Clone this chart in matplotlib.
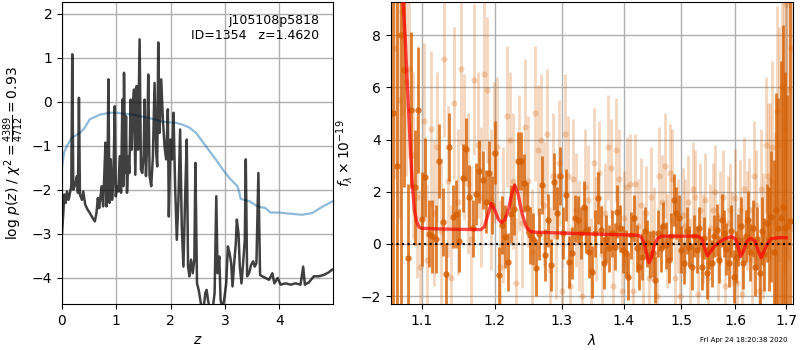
import numpy as np
import matplotlib
matplotlib.use("Agg")
import matplotlib.pyplot as plt
from matplotlib.ticker import NullLocator, NullFormatter, FixedLocator, FixedFormatter

# ---------------- p(z) panel data ----------------
pz_z = [0.000, 0.024, 0.043, 0.067, 0.092, 0.122, 0.147, 0.171, 0.189, 0.208,
        0.244, 0.275, 0.293, 0.312, 0.330, 0.367, 0.391, 0.428, 0.470, 0.513,
        0.562, 0.605, 0.635, 0.660, 0.684, 0.709, 0.733, 0.757, 0.776, 0.800,
        0.819, 0.837, 0.855, 0.874, 0.898, 0.922, 0.947, 0.971, 0.990, 1.014,
        1.038, 1.063, 1.087, 1.112, 1.130, 1.142, 1.161, 1.179, 1.197, 1.222,
        1.240, 1.265, 1.283, 1.301, 1.326, 1.350, 1.374, 1.399, 1.429, 1.454,
        1.478, 1.503, 1.521, 1.546, 1.570, 1.588, 1.613, 1.643, 1.674, 1.704,
        1.735, 1.753, 1.772, 1.796, 1.827, 1.857, 1.888, 1.918, 1.949, 1.967,
        1.998, 2.028, 2.053, 2.083, 2.114, 2.144, 2.175, 2.205, 2.236, 2.266,
        2.297, 2.321, 2.346, 2.376, 2.407, 2.437, 2.456, 2.486, 2.517, 2.547,
        2.578, 2.615, 2.639, 2.663, 2.688, 2.724, 2.773, 2.810, 2.841, 2.865,
        2.896, 2.920, 2.957, 2.993, 3.024, 3.054, 3.085, 3.115, 3.140, 3.170,
        3.201, 3.219, 3.250, 3.274, 3.305, 3.335, 3.366, 3.384, 3.409, 3.445,
        3.482, 3.519, 3.549, 3.580, 3.616, 3.647, 3.689, 3.751, 3.812, 3.873,
        3.910, 3.971, 4.026, 4.117, 4.209, 4.301, 4.392, 4.441, 4.472, 4.545,
        4.637, 4.728, 4.820, 4.911, 4.973]
pz_logp = [-2.99, -2.53, -2.11, -2.30, -2.04, -2.23, -2.07, -1.92, 1.08, -2.00,
           -1.88, -1.69, -2.07, 0.09, -2.11, -2.23, -2.04, -2.34, -2.45, -2.53,
           -2.64, -2.72, -2.53, -2.19, -2.42, -2.15, -1.92, -2.38, -1.77, -0.93,
           -2.38, -1.62, 0.51, -2.30, -1.31, -2.23, -1.77, -0.10, -2.15, -1.92,
           -2.04, -1.24, -2.07, 0.05, -1.92, 0.66, -1.62, -0.33, -2.07, -1.24,
           -1.62, 0.05, -1.09, -0.17, 0.28, -1.66, 0.36, -1.09, 1.42, -1.54,
           -1.62, -1.24, 0.05, -1.69, -0.86, 0.62, -1.69, -1.92, -1.24, 0.43,
           -1.16, -1.47, 1.35, -0.71, 0.51, -0.40, -1.01, -1.31, -0.17, -2.61,
           -0.86, -1.31, -0.25, -1.92, -3.14, -2.23, -0.63, -2.83, -3.75, -2.23,
           -0.86, -3.75, -3.97, -3.59, -3.90, -3.59, -1.39, -4.13, -4.28, -4.51,
           -4.73, -4.62, -4.35, -4.28, -4.51, -4.73, -4.73, -4.35, -2.15, -3.90,
           -3.52, -4.51, -4.73, -4.43, -4.13, -3.29, -3.44, -3.67, -4.20, -3.67,
           -3.21, -2.68, -2.99, -3.75, -4.13, -3.67, -3.14, -1.31, -3.97, -3.90,
           -3.71, -3.63, -3.75, -3.67, -1.62, -3.94, -3.97, -4.01, -4.05, -3.90,
           -4.13, -4.01, -4.16, -4.13, -4.16, -4.13, -4.16, -3.75, -4.16, -4.11,
           -3.97, -3.97, -3.94, -3.88, -3.82]

prior_z = [0.0, 0.012, 0.04, 0.086, 0.18, 0.33, 0.42, 0.51, 0.70, 0.88, 1.0, 1.12,
           1.31, 1.49, 1.67, 1.80, 1.92, 2.10, 2.22, 2.35, 2.47, 2.65, 2.83, 2.96,
           3.08, 3.23, 3.26, 3.29, 3.45, 3.60, 3.75, 3.84, 4.0, 4.24, 4.42, 4.61,
           4.79, 4.99]
prior_logp = [-1.50, -1.39, -1.15, -1.01, -0.82, -0.71, -0.59, -0.40, -0.29, -0.25,
              -0.25, -0.27, -0.29, -0.34, -0.39, -0.44, -0.46, -0.48, -0.52, -0.59,
              -0.71, -1.01, -1.31, -1.54, -1.73, -1.92, -2.04, -2.21, -2.26, -2.38,
              -2.42, -2.52, -2.52, -2.55, -2.57, -2.53, -2.39, -2.26]

# ---------------- spectrum panel data ----------------
dark_start, dark_step = 1.063, 0.0046
dark_flux = [5.0, 3.0, 8.0, 6.67, -0.52, 5.13, 2.17, 5.13, 0.95, 2.55,
             0.40, 0.30, 0.20, 3.18, 0.85, -1.15, 3.73, 1.05, 1.15, 0.13,
             2.52, 3.63, 1.81, 0.60, 1.92, 2.78, 2.45, 1.62, 2.73, 1.49,
             3.50, -1.20, 0.73, 0.28, -0.69, 1.14, 1.33, 3.18, 3.18, 2.33,
             1.39, 0.33, 0.20, -0.91, 0.37, 2.26, -0.42, 0.90, -0.80, 2.39,
             1.20, 2.60, 0.41, 1.88, -0.70, -0.36, 0.98, 0.92, 0.41, 1.43,
             0.54, -0.30, -1.06, 0.41, 1.75, 0.54, -0.74, 0.20, -0.17, 0.41,
             -0.10, 1.24, 0.60, -0.23, -0.36, -1.25, 0.34, 0.98, -0.17, -0.87,
             -0.49, 0.50, 0.03, -0.42, -0.36, -1.38, 0.41, -0.17, 0.70, -0.04,
             -0.61, 0.30, 1.69, 1.18, 0.98, -0.23, -0.74, 0.50, -0.10, -0.87,
             0.30, -0.23, 0.60, -0.87, 0.22, -1.12, -0.17, -0.74, 0.30, 0.54,
             -0.61, 0.90, 0.41, -0.20, -0.74, 0.50, -1.25, -0.49, 0.15, 0.70,
             -0.74, 0.30, 0.92, -0.30, 0.60, -0.90, 0.20, -1.10, 0.50, -0.40,
             0.80, 0.20, 1.05, -0.30, 1.30, 0.60, 1.00, 1.40, 0.60, 0.70, 0.89]
dark_err = [30, 30, 25, 4.5, 2.8, 3.0, 2.2, 2.4,
            1.8, 1.5, 1.3, 1.4, 1.3,
            1.4, 1.3, 1.2, 1.3, 1.2, 1.3, 1.2, 1.3,
            1.2, 1.2, 1.1, 1.2, 1.2, 1.1, 1.2, 1.2, 1.1, 1.2,
            1.1, 1.1, 1.2, 1.1, 1.1, 1.0, 1.1, 1.1, 1.1, 1.0,
            1.1, 1.0, 1.1, 1.0, 1.1, 1.0, 1.0, 1.0, 1.1, 1.0,
            1.1, 1.0, 1.0, 1.0, 1.0, 0.9, 0.9, 1.0, 1.0, 0.9,
            1.0, 1.0, 0.9, 1.0, 0.9, 1.0, 0.9, 0.9, 0.9, 0.9,
            1.0, 0.9, 0.9, 0.9, 0.9, 0.9, 0.9, 0.9, 0.9, 0.9,
            0.9, 0.9, 0.9, 0.9, 0.9, 0.9, 0.9, 0.9, 0.9, 0.9,
            0.9, 1.0, 1.0, 0.9, 0.9, 0.8, 0.9, 0.8, 0.9, 0.8,
            0.9, 0.8, 0.9, 0.8, 1.0, 0.8, 0.9, 0.8, 1.0, 0.9,
            1.0, 0.9, 1.0, 0.9, 1.0, 1.0, 1.0, 1.0, 1.1, 1.0,
            1.0, 1.1, 1.1, 1.1, 1.1, 1.2, 1.2, 1.3, 1.4, 1.5,
            2.0, 2.5, 3.5, 4.5, 5.0, 6.0, 7.0, 6.0, 5.0, 30]

light_start, light_step = 1.0653, 0.0046
light_flux = [7.5, 5.5, 8.9, 6.2, 6.7, 3.4, 1.8, -0.9,
              4.7, -0.6, 4.4, 1.2, 3.7, 0.5, 7.1, 2.4, -1.3, 5.4, 1.6, 6.7, 3.7, 2.3,
              0.2, 6.3, 3.8, 1.8, 6.5, 5.9, 1.7, 3.5,
              3.7, -0.9, 1.1, 4.9, 4.0, 2.4, -1.5, 3.1, 0.8, 4.5, 2.4, -0.3, 5.0, 3.6,
              4.0, 1.5, 4.2, -1.0, 2.6, 0.3, 3.1, -1.8,
              4.2, 2.6, -1.6, 2.5, 1.3, 0.3, -2.0, 2.2, 1.7, -1.0, 3.1, 0.6, 2.7, -0.4,
              1.2, 3.7, 2.9, -1.6, 3.6, 2.5, -1.8, 1.0,
              2.2, 2.3, -1.8, 2.3, 0.7, 1.5, -0.5, 1.2, -1.3, 1.8, 0.4, -2.0, 2.6, 1.6,
              3.0, 0.1, 2.7, 2.5, -1.3, 0.7, -2.0, 1.1,
              0.7, 1.6, -0.8, 2.1, 1.8, -1.9, 1.3, 0.2, 1.7, -1.3, 0.6, 1.3, 2.0, -0.5,
              1.0, 1.8, -1.6, 0.8, 1.3, 0.2, 1.75, -1.5,
              1.3, -1.9, 2.1, 0.9, 1.3, -0.6, 2.6, 1.5, -1.8, 2.1, 0.3, 3.8, 2.6, 2.4,
              3.7, 0.8, 5.1, 3.8, 6.0, 4.4, 9.2, 5.9, 7.5]
light_err = [5.0, 4.5, 4.0, 3.6, 3.4, 3.2, 3.1, 3.0,
             3.0, 2.9, 3.0, 2.8, 2.9, 2.8, 3.0, 2.9, 2.8, 2.9, 2.8, 2.9, 2.8, 2.7,
             2.8, 2.9, 2.8, 2.7, 2.9, 2.8, 2.7, 2.7,
             2.7, 2.6, 2.6, 2.7, 2.6, 2.6, 2.5, 2.6, 2.5, 2.6, 2.5, 2.4, 2.6, 2.5,
             2.5, 2.4, 2.5, 2.4, 2.4, 2.4, 2.4, 2.3,
             2.3, 2.3, 2.2, 2.3, 2.2, 2.1, 2.1, 2.2, 2.1, 2.0, 2.1, 2.0, 2.0, 1.9,
             1.9, 2.0, 1.9, 1.9, 2.0, 1.9, 1.9, 1.8,
             1.9, 1.9, 1.8, 1.9, 1.8, 1.8, 1.8, 1.8, 1.8, 1.9, 1.8, 1.8, 1.9, 1.8,
             2.0, 1.8, 1.9, 1.9, 1.8, 1.8, 1.8, 1.8,
             1.8, 1.8, 1.8, 1.8, 1.8, 1.8, 1.8, 1.7, 1.8, 1.8, 1.7, 1.8, 1.8, 1.7,
             1.8, 1.8, 1.8, 1.8, 1.8, 1.8, 1.9, 1.8,
             1.9, 1.9, 2.0, 1.9, 2.0, 2.0, 2.1, 2.1, 2.2, 2.3, 2.4, 2.6, 2.8, 3.0,
             3.3, 3.5, 4.0, 4.5, 5.0, 5.5, 6.0, 6.5, 7.0]

model_wave = [1.068, 1.072, 1.075, 1.078, 1.081, 1.084, 1.087, 1.090, 1.093, 1.096,
              1.099, 1.12, 1.15, 1.18, 1.185, 1.19, 1.195, 1.200, 1.205, 1.210,
              1.215, 1.220, 1.225, 1.229, 1.234, 1.240, 1.246, 1.252, 1.26, 1.30,
              1.35, 1.40, 1.425, 1.430, 1.435, 1.440, 1.443, 1.447, 1.452, 1.458,
              1.465, 1.50, 1.53, 1.537, 1.542, 1.547, 1.553, 1.560, 1.570, 1.580,
              1.592, 1.600, 1.605, 1.610, 1.615, 1.622, 1.630, 1.638, 1.645, 1.650,
              1.655, 1.662, 1.670, 1.685, 1.700]
model_flux = [14, 11, 9.5, 8.0, 6.0, 4.2, 2.4, 1.3, 0.85, 0.65,
              0.60, 0.58, 0.56, 0.55, 0.65, 1.1, 1.55, 1.3, 0.95, 0.82,
              0.95, 1.35, 1.95, 2.25, 1.9, 1.15, 0.65, 0.48, 0.45, 0.42,
              0.38, 0.35, 0.33, 0.25, 0.0, -0.5, -0.72, -0.55, -0.05, 0.22,
              0.30, 0.30, 0.30, 0.2, -0.15, -0.45, -0.3, -0.1, 0.08, 0.2,
              0.28, 0.2, -0.1, -0.48, -0.3, 0.1, 0.22, 0.1, -0.3, -0.52,
              -0.3, 0.0, 0.2, 0.24, 0.24]

lam_ticks = [1.1, 1.2, 1.3, 1.4, 1.5, 1.6, 1.7]
title_lines = ["j105108p5818", "ID=1354   z=1.4620"]
timestamp = "Fri Apr 24 18:20:38 2020"

G141 = (0.8352941176470589, 0.3686274509803922, 0.0)

fig = plt.figure(figsize=(8, 3.5), dpi=100)
axz = fig.add_axes([62/800, 46/350, 271/800, 302/350])
axs = fig.add_axes([391/800, 46/350, 402/800, 302/350])

# ---- p(z) ----
axz.plot(prior_z, prior_logp, color='#1f77b4', alpha=0.5, lw=1.6, zorder=2)
axz.plot(pz_z, pz_logp, color='k', alpha=0.75, lw=1.8, zorder=3)
axz.set_xlim(0, 4.99)
axz.set_ylim(-4.6, 2.27)
axz.set_xticks([0, 1, 2, 3, 4])
axz.set_yticks([-4, -3, -2, -1, 0, 1, 2])
axz.grid(True, color='#b0b0b0', lw=1.0)
axz.set_axisbelow(True)
axz.set_xlabel(r'$z$', fontsize=10)
axz.set_ylabel(r'log $p(z)$' + ' / ' + r'$\chi^2=\frac{4389}{4712}=0.93$', fontsize=10)
axz.text(0.95, 0.96, "\n".join(title_lines), ha='right', va='top',
         transform=axz.transAxes, fontsize=9)

# ---- spectrum ----
n_l = min(len(light_flux), len(light_err))
n_d = min(len(dark_flux), len(dark_err))
light_wave = light_start + light_step*np.arange(n_l)
dark_wave = dark_start + dark_step*np.arange(n_d)
axs.errorbar(light_wave, light_flux[:n_l], yerr=light_err[:n_l], fmt='o', color=G141,
             alpha=0.25, ms=4.5, elinewidth=2.0, capsize=0, mew=0, zorder=1)
axs.errorbar(dark_wave, dark_flux[:n_d], yerr=dark_err[:n_d], fmt='o', color=G141,
             alpha=0.8, ms=4.6, elinewidth=2.0, capsize=0, mew=0, zorder=2)
axs.plot(model_wave, model_flux, color='r', alpha=0.7, lw=2.4, zorder=4)
axs.axhline(0, color='k', ls=':', lw=1.5, zorder=5)

axs.set_xscale('log')
axs.set_xlim(1.06, 1.714)
axs.set_ylim(-2.3, 9.27)
axs.xaxis.set_major_locator(FixedLocator(lam_ticks))
axs.xaxis.set_major_formatter(FixedFormatter([f"{t:.1f}" for t in lam_ticks]))
axs.xaxis.set_minor_locator(NullLocator())
axs.xaxis.set_minor_formatter(NullFormatter())
axs.set_yticks([-2, 0, 2, 4, 6, 8])
axs.grid(True, color='#b0b0b0', lw=1.0)
axs.set_axisbelow(True)
axs.set_xlabel(r'$\lambda$', fontsize=10)
axs.set_ylabel(r'$f_\lambda\times10^{-19}$', fontsize=10)

fig.text(1-0.015, 0.02, timestamp, ha='right', va='bottom', fontsize=5)

fig.savefig('out.png', dpi=100)
